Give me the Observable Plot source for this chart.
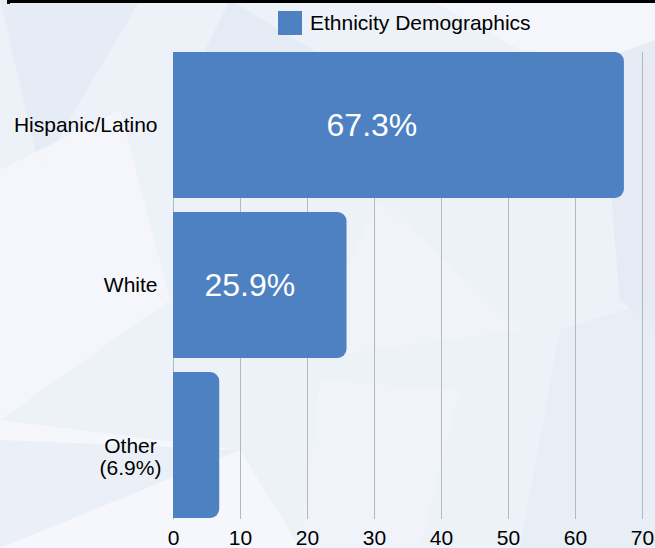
<!DOCTYPE html>
<html>
<head>
<meta charset="utf-8">
<script src="https://cdn.jsdelivr.net/npm/d3@7"></script>
<script src="https://cdn.jsdelivr.net/npm/@observablehq/plot@0.6"></script>
<style>
  html, body { margin: 0; padding: 0; background: #eef2f8; }
  #wrap { position: relative; width: 655px; height: 548px; overflow: hidden; font-family: "Liberation Sans", Arial, Helvetica, sans-serif; }
  #bg { position: absolute; left: 0; top: 0; }
  #frame { position: absolute; left: 7px; top: 0; width: 648px; height: 1px; border-top: 3px solid #000; border-left: 3px solid #000; }
  #legend { position: absolute; left: 278px; top: 11px; display: flex; align-items: center; gap: 8px; font-size: 21px; color: #000; }
  #legend .sw { width: 24px; height: 24px; background: #4e81c2; }
  #chart { position: absolute; left: 0; top: 0; }
</style>
</head>
<body>
<div id="wrap">
  <svg id="bg" width="655" height="548">
    <rect width="655" height="548" fill="#edf1f8"/>
    <polygon points="0,0 140,0 40,170" fill="#e3e9f3" opacity="0.7"/>
    <polygon points="0,170 120,110 170,300 0,420" fill="#f6f8fc" opacity="0.8"/>
    <polygon points="0,420 240,450 300,548 0,548" fill="#f7f9fc" opacity="0.8"/>
    <polygon points="0,440 240,450 0,548" fill="#e8edf6" opacity="0.8"/>
    <polygon points="230,0 330,60 200,60" fill="#e1e8f3" opacity="0.7"/>
    <polygon points="430,0 655,0 655,60 520,50" fill="#f5f7fb" opacity="0.8"/>
    <polygon points="600,60 655,40 655,330 620,300" fill="#e2e8f3" opacity="0.8"/>
    <polygon points="380,200 520,330 300,360" fill="#f2f5fa" opacity="0.6"/>
    <polygon points="560,330 655,300 655,548 520,548" fill="#e6ecf5" opacity="0.7"/>
    <polygon points="320,380 460,390 420,548 300,548" fill="#f2f5fa" opacity="0.6"/>
  </svg>
  <div id="frame"></div>
  <div id="legend"><div class="sw"></div><span>Ethnicity Demographics</span></div>
  <div id="chart"></div>
</div>
<script>
const categories = ["Hispanic/Latino", "White", "Other\n(6.9%)"];
const values = [67.3, 25.9, 6.9];
const valueLabels = ["67.3%", "25.9%", ""];
const xTicks = [0, 10, 20, 30, 40, 50, 60, 70];

const data = categories.map((c, i) => ({category: c, value: values[i], label: valueLabels[i]}));
const barColor = "#4e81c2";

const plot = Plot.plot({
  width: 655,
  height: 548,
  marginTop: 52,
  marginBottom: 29,
  marginLeft: 173,
  marginRight: 13,
  style: {background: "transparent", fontFamily: "'Liberation Sans', Arial, Helvetica, sans-serif", fontSize: "21px", color: "#000"},
  x: {domain: [0, 70], ticks: xTicks, axis: null},
  y: {domain: categories, paddingInner: 0.085, paddingOuter: 0, axis: null},
  marks: [
    Plot.gridX(xTicks, {stroke: "#b5b8bd", strokeOpacity: 1, strokeWidth: 1}),
    Plot.barX(data, {y: "category", x1: 0, x2: "value", fill: barColor, rx: 9}),
    Plot.barX(data, {y: "category", x1: 0, x2: d => Math.min(d.value, 2), fill: barColor}),
    Plot.text(data, {y: "category", x: d => d.value * 0.44, text: "label", fill: "#fff", fontSize: 32, textAnchor: "middle"}),
    Plot.axisX({ticks: xTicks, tickSize: 0, tickPadding: 11, fontSize: 21, label: null, tickFormat: d => String(d)}),
    Plot.text(data.filter(d => !d.category.includes("\n")), {y: "category", text: "category", frameAnchor: "left", dx: -16, textAnchor: "end", fontSize: 21, fill: "#000"}),
    Plot.text(data.filter(d => d.category.includes("\n")), {y: "category", text: "category", frameAnchor: "left", dx: -43, dy: 11, textAnchor: "middle", lineHeight: 1.05, fontSize: 21, fill: "#000"})
  ]
});
document.getElementById("chart").appendChild(plot);
</script>
</body>
</html>
